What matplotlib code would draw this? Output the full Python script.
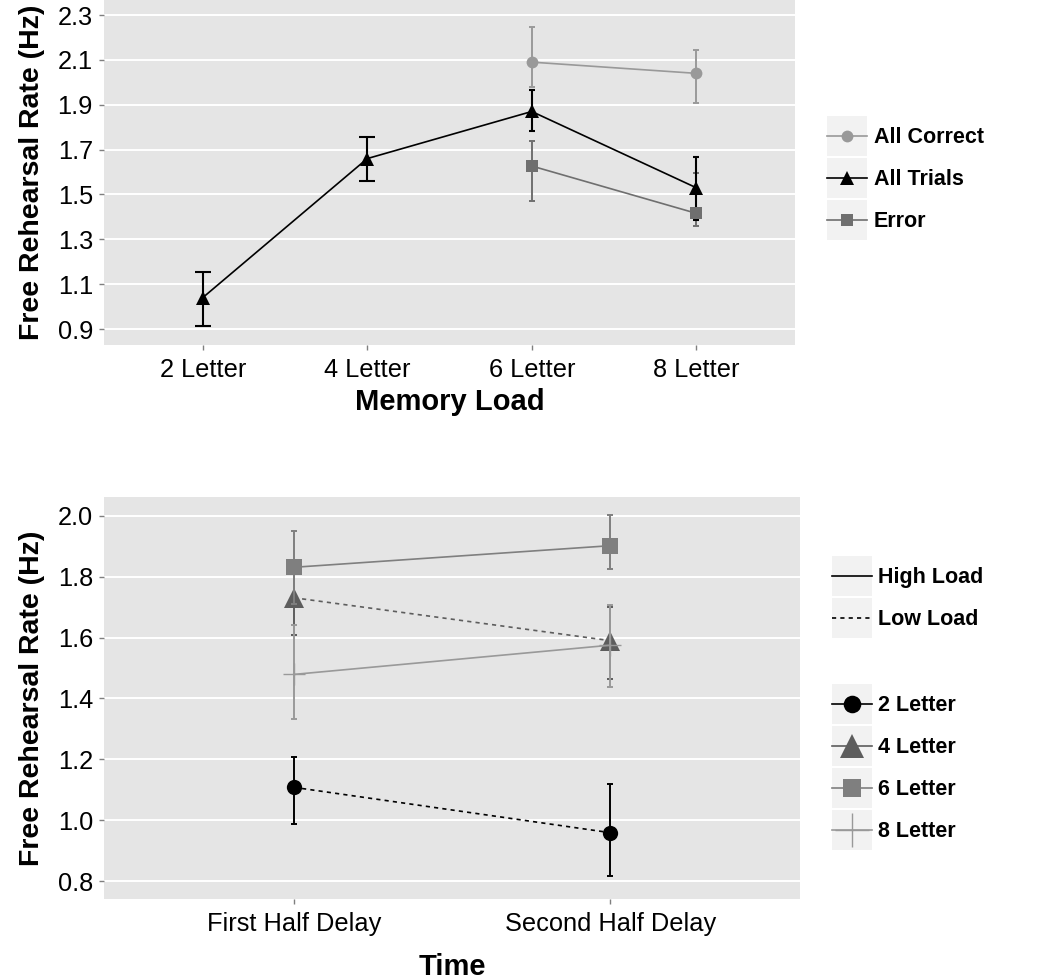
import numpy as np
import matplotlib
matplotlib.use('Agg')
import matplotlib.pyplot as plt
from matplotlib.lines import Line2D
from matplotlib.patches import Rectangle
from matplotlib.legend_handler import HandlerLine2D

plt.rcParams['font.family'] = ['Liberation Sans', 'DejaVu Sans']

# ---- top panel data (memory load) ----
loads = ['2 Letter', '4 Letter', '6 Letter', '8 Letter']
trials_y = [1.04, 1.66, 1.87, 1.53]
trials_lo = [0.915, 1.562, 1.784, 1.386]
trials_hi = [1.155, 1.757, 1.966, 1.665]
correct_loads = ['6 Letter', '8 Letter']
correct_y = [2.09, 2.04]
correct_lo = [1.98, 1.909]
correct_hi = [2.248, 2.144]
error_loads = ['6 Letter', '8 Letter']
error_y = [1.627, 1.416]
error_lo = [1.472, 1.36]
error_hi = [1.739, 1.597]
top_ticks = [0.9, 1.1, 1.3, 1.5, 1.7, 1.9, 2.1, 2.3]

# ---- bottom panel data (time) ----
times = ['First Half Delay', 'Second Half Delay']
l2_y = [1.108, 0.959]; l2_lo = [0.987, 0.817]; l2_hi = [1.209, 1.12]
l4_y = [1.731, 1.59]; l4_lo = [1.609, 1.464]; l4_hi = [1.85, 1.70]
l6_y = [1.831, 1.902]; l6_lo = [1.71, 1.824]; l6_hi = [1.951, 2.003]
l8_y = [1.479, 1.575]; l8_lo = [1.333, 1.437]; l8_hi = [1.642, 1.707]
bot_ticks = [0.8, 1.0, 1.2, 1.4, 1.6, 1.8, 2.0]

BG = '#e5e5e5'
KEYBG = '#f2f2f2'


class KeyHandler(HandlerLine2D):
    # ggplot-like legend key: grey square behind, line+marker centred in it
    def create_artists(self, legend, orig_handle, xdescent, ydescent, width, height, fontsize, trans):
        r = Rectangle((-xdescent, -ydescent), width, height, facecolor=KEYBG, edgecolor='none', transform=trans)
        arts = super().create_artists(legend, orig_handle, xdescent, ydescent, width, height, fontsize, trans)
        cy = height / 2 - ydescent
        for a in arts:
            a.set_ydata(np.full_like(np.asarray(a.get_xdata(), dtype=float), cy))
        return [r] + list(arts)


def style_ax(ax, ticks):
    ax.set_facecolor(BG)
    for s in ax.spines.values():
        s.set_visible(False)
    ax.set_yticks(ticks)
    ax.set_yticklabels([f'{t:.1f}' for t in ticks])
    ax.yaxis.grid(True, color='white', lw=1.4)
    ax.set_axisbelow(True)
    ax.tick_params(colors='#7f7f7f', length=3.5, width=1, labelsize=18.3, labelcolor='black')
    ax.tick_params(axis='x', pad=6)
    ax.tick_params(axis='y', pad=4.5)


def err(lo, y, hi):
    y = np.array(y); return [y - np.array(lo), np.array(hi) - y]


fig = plt.figure(figsize=(10.5, 9.8), dpi=100)

# ================= top =================
ax1 = fig.add_axes([104/1050, 1-345/980, (795-104)/1050, 345/980])
style_ax(ax1, top_ticks)
xpos = {k: i+1 for i, k in enumerate(loads)}
xt = [xpos[k] for k in loads]
xc = [xpos[k] for k in correct_loads]
xe = [xpos[k] for k in error_loads]

c_correct, c_trials, c_error = '#999999', '#000000', '#6f6f6f'
ax1.errorbar(xc, correct_y, yerr=err(correct_lo, correct_y, correct_hi), fmt='none', ecolor=c_correct, elinewidth=1.4, capsize=2.2, capthick=1.4)
ax1.errorbar(xe, error_y, yerr=err(error_lo, error_y, error_hi), fmt='none', ecolor=c_error, elinewidth=1.4, capsize=2.2, capthick=1.4)
ax1.errorbar(xt[:2], trials_y[:2], yerr=err(trials_lo[:2], trials_y[:2], trials_hi[:2]), fmt='none', ecolor=c_trials, elinewidth=1.5, capsize=5.8, capthick=1.5)
ax1.errorbar(xt[2:], trials_y[2:], yerr=err(trials_lo[2:], trials_y[2:], trials_hi[2:]), fmt='none', ecolor=c_trials, elinewidth=1.5, capsize=2.2, capthick=1.5)
h_c, = ax1.plot(xc, correct_y, color=c_correct, lw=1.2, marker='o', ms=8.5, mew=0)
h_t, = ax1.plot(xt, trials_y, color=c_trials, lw=1.2, marker='^', ms=10.5, mew=0)
h_e, = ax1.plot(xe, error_y, color=c_error, lw=1.2, marker='s', ms=8.5, mew=0)

ax1.set_xticks(xt)
ax1.set_xticklabels(loads)
ax1.set_xlim(0.4, 4.6)
ax1.set_ylim(0.829, 2.367)
ax1.set_xlabel('Memory Load', fontsize=21, fontweight='bold', labelpad=4)
ax1.set_ylabel('Free Rehearsal Rate (Hz)', fontsize=20.5, fontweight='bold', labelpad=9)

leg_kw = dict(loc='upper left', frameon=False, prop={'size': 15.5, 'weight': 'bold'},
              handlelength=1.86, handleheight=2.48, labelspacing=0.1, handletextpad=0.3,
              borderpad=0, borderaxespad=0, handler_map={Line2D: KeyHandler()})

fig.legend([h_c, h_t, h_e], ['All Correct', 'All Trials', 'Error'],
           bbox_to_anchor=(827/1050, 1-116/980), **leg_kw)

# ================= bottom =================
ax2 = fig.add_axes([104/1050, 1-899/980, (800-104)/1050, (899-496.7)/980])
style_ax(ax2, bot_ticks)
xb = [1, 2]

series = [
    ('2 Letter', l2_y, l2_lo, l2_hi, '#000000', 'o', 11, (0, (2.5, 2.5))),
    ('4 Letter', l4_y, l4_lo, l4_hi, '#5d5d5d', '^', 14.5, (0, (2.5, 2.5))),
    ('6 Letter', l6_y, l6_lo, l6_hi, '#7f7f7f', 's', 11, '-'),
    ('8 Letter', l8_y, l8_lo, l8_hi, '#999999', '+', 16, '-'),
]
shape_handles = []
for name, y, lo, hi, col, mk, ms, ls in series:
    ax2.errorbar(xb, y, yerr=err(lo, y, hi), fmt='none', ecolor=col, elinewidth=1.4, capsize=2.5, capthick=1.4)
    ax2.plot(xb, y, color=col, lw=1.2, ls=ls)
    ax2.plot(xb, y, color=col, ls='none', marker=mk, ms=ms, mew=(1.0 if mk == '+' else 0))
    shape_handles.append(Line2D([], [], color=col, lw=1.2, marker=mk,
                                ms=(24 if mk == '+' else ms * 1.15), mew=(1.0 if mk == '+' else 0)))

ax2.set_xticks(xb)
ax2.set_xticklabels(times)
ax2.set_xlim(0.4, 2.6)
ax2.set_ylim(0.741, 2.063)
ax2.set_xlabel('Time', fontsize=21, fontweight='bold', labelpad=12)
ax2.set_ylabel('Free Rehearsal Rate (Hz)', fontsize=20.5, fontweight='bold', labelpad=9)

lt_handles = [Line2D([], [], color='black', lw=1.2, ls='-'),
              Line2D([], [], color='black', lw=1.2, ls=(0, (2.5, 2.5)))]
fig.legend(lt_handles, ['High Load', 'Low Load'], bbox_to_anchor=(832/1050, 1-556/980), **leg_kw)
fig.legend(shape_handles, [s[0] for s in series], bbox_to_anchor=(832/1050, 1-684/980), **leg_kw)

fig.savefig('out.png', dpi=100)
